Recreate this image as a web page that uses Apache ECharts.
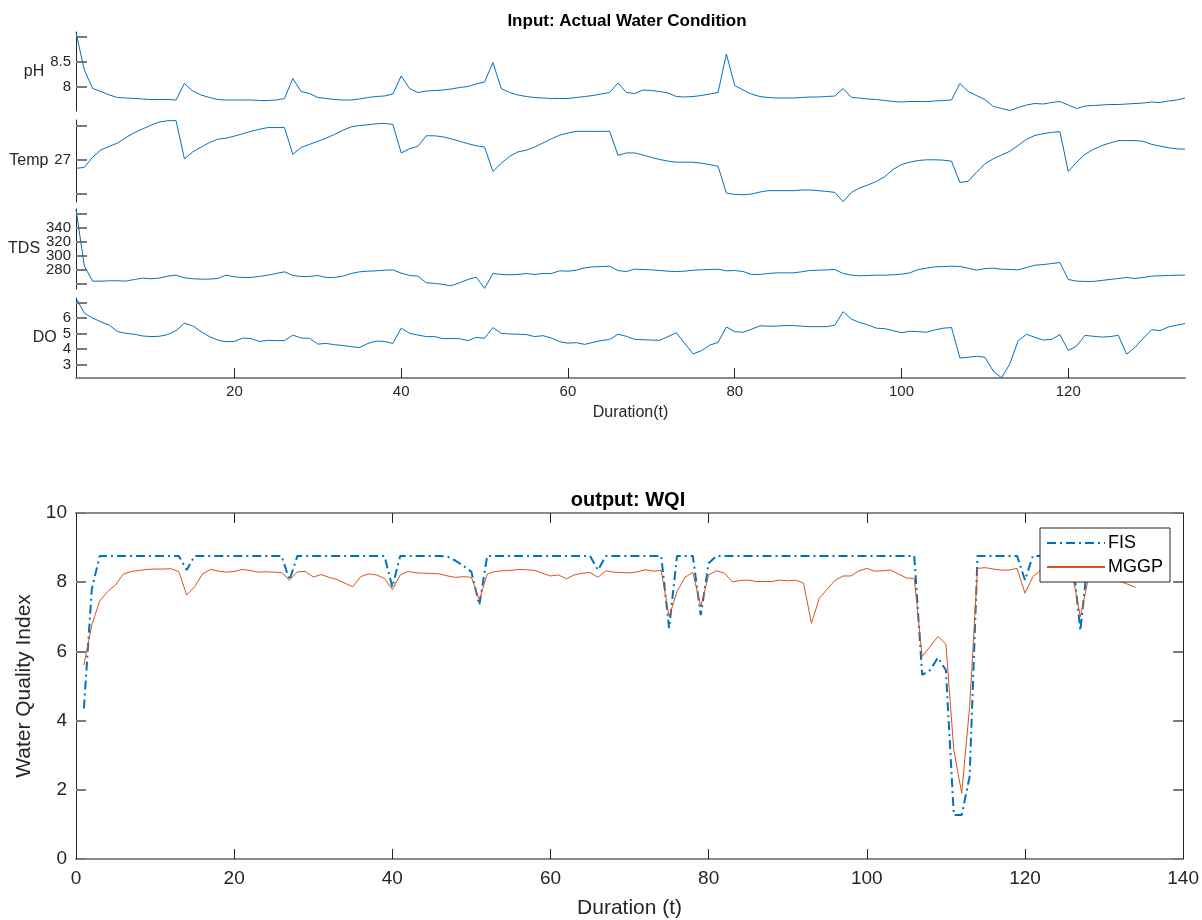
<!DOCTYPE html>
<html>
<head>
<meta charset="utf-8">
<script src="https://cdn.jsdelivr.net/npm/echarts@6/dist/echarts.min.js"></script>
<style>
html,body{margin:0;padding:0;background:#fff;}
#c{width:1202px;height:920px;}
</style>
</head>
<body>
<div id="c"></div>
<script>
// ---- data ----
const pH = [9.09,8.34,7.97,7.91,7.84,7.79,7.78,7.77,7.76,7.75,7.75,7.75,7.74,8.07,7.92,7.84,7.79,7.75,7.74,7.74,
7.74,7.74,7.73,7.73,7.74,7.77,8.17,7.91,7.87,7.79,7.77,7.75,7.74,7.74,7.76,7.79,7.81,7.82,7.86,8.22,
7.97,7.89,7.92,7.93,7.94,7.96,7.99,8.01,8.06,8.10,8.49,7.97,7.89,7.84,7.81,7.79,7.78,7.77,7.77,7.77,
7.79,7.81,7.83,7.86,7.89,8.08,7.89,7.87,7.94,7.93,7.91,7.88,7.81,7.80,7.81,7.83,7.86,7.89,8.66,8.03,
7.94,7.86,7.81,7.79,7.78,7.78,7.78,7.79,7.80,7.80,7.81,7.82,7.97,7.79,7.78,7.76,7.75,7.73,7.71,7.70,
7.71,7.71,7.71,7.72,7.73,7.74,8.07,7.91,7.83,7.75,7.61,7.57,7.53,7.59,7.64,7.67,7.66,7.69,7.71,7.64,
7.57,7.62,7.63,7.64,7.65,7.65,7.66,7.67,7.68,7.70,7.69,7.72,7.74,7.78];
const temp = [26.75,26.78,27.08,27.29,27.39,27.49,27.65,27.79,27.90,28.01,28.10,28.14,28.14,27.03,27.23,27.37,27.50,27.60,27.63,27.69,
27.76,27.83,27.89,27.94,27.94,27.94,27.16,27.36,27.45,27.54,27.63,27.74,27.86,27.96,28.00,28.02,28.05,28.06,28.03,27.20,
27.32,27.39,27.70,27.70,27.67,27.61,27.54,27.47,27.41,27.37,26.66,26.90,27.10,27.23,27.28,27.37,27.49,27.61,27.72,27.78,
27.83,27.83,27.83,27.83,27.83,27.13,27.20,27.20,27.14,27.07,27.01,26.96,26.93,26.93,26.93,26.90,26.86,26.81,26.03,25.99,
25.98,26.00,26.06,26.10,26.10,26.10,26.10,26.12,26.12,26.10,26.08,26.05,25.78,26.05,26.18,26.27,26.37,26.51,26.72,26.86,
26.93,26.98,27.00,27.00,26.99,26.96,26.34,26.37,26.64,26.88,27.03,27.14,27.25,27.42,27.60,27.71,27.76,27.80,27.82,26.66,
26.93,27.16,27.30,27.41,27.49,27.56,27.56,27.56,27.54,27.45,27.40,27.35,27.32,27.31];
const tds = [366.7,284.8,263.3,263.3,263.8,263.8,263.3,265.7,267.6,266.7,267.6,270.5,271.9,268.1,266.7,266.2,266.2,267.1,271.9,269.5,
268.6,268.6,270.0,271.9,274.3,276.7,271.4,270.0,270.0,271.4,268.6,268.6,270.5,274.3,276.7,277.6,278.1,279.0,279.5,274.8,
271.4,270.5,261.0,260.0,258.6,256.7,261.0,265.7,269.0,252.9,274.3,272.9,272.4,272.9,274.3,272.9,274.3,274.3,278.1,277.6,
279.0,282.4,283.8,284.3,284.8,278.6,277.1,280.5,280.0,279.5,278.6,277.6,277.1,277.6,279.0,279.5,280.0,280.5,278.1,278.6,
277.1,272.9,272.9,274.3,275.2,275.2,275.2,276.7,278.6,279.0,279.5,280.0,274.3,271.9,271.0,271.4,271.9,271.9,272.4,273.3,
275.2,280.0,281.9,283.8,284.3,284.8,284.3,281.9,279.0,281.4,281.9,280.5,280.0,279.5,282.9,286.2,287.1,288.6,290.0,265.7,
263.3,262.9,262.9,264.3,265.7,267.1,268.6,267.1,268.6,270.5,271.0,271.4,271.9,271.9];
const dox = [7.29,6.32,6.00,5.76,5.54,5.13,5.02,4.96,4.85,4.81,4.83,4.94,5.19,5.67,5.50,5.13,4.81,4.59,4.48,4.50,
4.72,4.68,4.50,4.57,4.55,4.55,4.91,4.72,4.70,4.33,4.37,4.29,4.24,4.16,4.11,4.37,4.52,4.50,4.37,5.35,
5.02,4.91,4.81,4.81,4.68,4.68,4.68,4.55,4.76,4.70,5.39,5.02,4.98,4.96,4.94,4.81,4.87,4.72,4.48,4.39,
4.42,4.31,4.44,4.55,4.63,4.96,4.83,4.63,4.61,4.59,4.57,4.81,5.06,4.37,3.70,3.90,4.26,4.44,5.43,5.13,
5.09,5.28,5.50,5.48,5.48,5.52,5.52,5.48,5.45,5.45,5.45,5.54,6.41,5.93,5.71,5.56,5.35,5.32,5.19,5.06,
5.15,5.13,5.09,5.24,5.35,5.39,3.44,3.48,3.55,3.48,2.60,2.16,3.07,4.55,4.96,4.76,4.59,4.63,4.94,3.92,
4.20,4.89,4.83,4.78,4.81,4.89,3.68,4.11,4.70,5.26,5.19,5.43,5.54,5.65];
const fis = [4.35,7.80,8.76,8.76,8.76,8.76,8.76,8.76,8.76,8.76,8.76,8.76,8.76,8.35,8.76,8.76,8.76,8.76,8.76,8.76,
8.76,8.76,8.76,8.76,8.76,8.76,8.06,8.76,8.76,8.76,8.76,8.76,8.76,8.76,8.76,8.76,8.76,8.76,8.76,7.86,
8.76,8.76,8.76,8.76,8.76,8.76,8.74,8.62,8.47,8.30,7.34,8.76,8.76,8.76,8.76,8.76,8.76,8.76,8.76,8.76,
8.76,8.76,8.76,8.76,8.76,8.35,8.76,8.76,8.76,8.76,8.76,8.76,8.76,8.76,6.67,8.76,8.76,8.76,7.05,8.55,
8.76,8.76,8.76,8.76,8.76,8.76,8.76,8.76,8.76,8.76,8.76,8.76,8.76,8.76,8.76,8.76,8.76,8.76,8.76,8.76,
8.76,8.76,8.76,8.76,8.76,8.76,5.32,5.46,5.82,5.46,1.27,1.27,2.38,8.76,8.76,8.76,8.76,8.76,8.76,8.06,
8.76,8.76,8.76,8.76,8.76,8.76,6.60,8.76,8.76,8.76,8.76,8.76,8.76,8.76];
const mggp = [5.61,6.76,7.46,7.73,7.92,8.24,8.31,8.34,8.37,8.38,8.38,8.39,8.31,7.63,7.87,8.24,8.37,8.32,8.29,8.31,
8.37,8.34,8.29,8.30,8.29,8.28,8.06,8.30,8.31,8.15,8.22,8.14,8.08,7.97,7.87,8.16,8.24,8.21,8.11,7.79,
8.21,8.31,8.27,8.26,8.25,8.24,8.18,8.14,8.16,8.14,7.49,8.24,8.31,8.33,8.34,8.37,8.36,8.34,8.26,8.18,
8.21,8.10,8.21,8.26,8.28,8.14,8.33,8.29,8.28,8.27,8.30,8.36,8.32,8.34,7.00,7.73,8.14,8.28,7.29,8.21,
8.33,8.26,8.01,8.05,8.06,8.02,8.02,8.02,8.06,8.04,8.06,7.97,6.81,7.54,7.80,8.06,8.18,8.18,8.33,8.40,
8.32,8.33,8.35,8.24,8.12,8.11,5.85,6.14,6.43,6.21,3.15,1.90,4.40,8.40,8.42,8.38,8.35,8.35,8.40,7.68,
8.16,8.35,8.33,8.30,8.32,8.22,7.00,8.10,8.35,8.30,8.15,8.03,7.94,7.85];
const durationTicks = [20, 40, 60, 80, 100, 120];
const panelNames = ['pH', 'Temp', 'TDS', 'DO'];
const panelTicks = [[8, 8.5, 9], [26, 27, 28], [260, 280, 300, 320, 340, 360], [3, 4, 5, 6, 7]];
// tick labels per panel (split in two sets so that tightly packed labels are all kept)
const panelLabelsA = [[8, 8.5], [27], [280, 320], [3, 4, 5, 6]];
const panelLabelsB = [[], [], [300, 340], []];
const panelRange = [[7.52, 9.1], [25.77, 28.16], [252, 367], [2.15, 7.29]];
const wqiTicksX = [0, 20, 40, 60, 80, 100, 120, 140];
const wqiTicksY = [0, 2, 4, 6, 8, 10];

const FONT = 'Liberation Sans, Arial, Helvetica, sans-serif';
const DARK = '#262626';
const GRAYLINE = '#8a8a8a';
const BLUE = '#0072BD';
const ORANGE = '#D95319';

function pairs(arr) { return arr.map((v, i) => [i + 1, v]); }

const panelSeries = [pH, temp, tds, dox];
const panelTop = [32, 120, 209, 298];
const panelH = [79, 82, 80, 80];
const nameGaps = [27, 25, 32, 16];

const grids = [], xAxes = [], yAxes = [], series = [], extraY = [];
for (let i = 0; i < 4; i++) {
  grids.push({ left: 76, right: 17, top: panelTop[i], height: panelH[i], containLabel: false });
  const isLast = i === 3;
  xAxes.push({
    type: 'value', gridIndex: i, min: 1, max: 134,
    show: isLast,
    axisLine: { show: isLast, onZero: false, lineStyle: { color: GRAYLINE, width: 2 } },
    axisTick: { show: isLast, inside: true, length: 10, lineStyle: { color: DARK }, customValues: durationTicks },
    axisLabel: { show: isLast, customValues: durationTicks, fontSize: 15, color: DARK, fontFamily: FONT, margin: 6 },
    splitLine: { show: false },
    name: isLast ? 'Duration(t)' : '', nameLocation: 'middle', nameGap: 27,
    nameTextStyle: { fontSize: 16, color: DARK, fontFamily: FONT }
  });
  yAxes.push({
    type: 'value', gridIndex: i, min: panelRange[i][0], max: panelRange[i][1],
    axisLine: { show: true, onZero: false, lineStyle: { color: DARK, width: 1 } },
    axisTick: { show: true, inside: true, length: 11, lineStyle: { color: '#7a7a7a', width: 2 }, customValues: panelTicks[i] },
    axisLabel: { customValues: panelLabelsA[i], hideOverlap: false, showMinLabel: true, showMaxLabel: true,
      fontSize: 15, color: DARK, fontFamily: FONT, margin: 5 },
    splitLine: { show: false },
    name: panelNames[i], nameLocation: 'middle', nameRotate: 0, nameGap: nameGaps[i],
    nameTextStyle: { fontSize: 16, color: DARK, fontFamily: FONT, align: 'right', verticalAlign: 'middle' }
  });
  if (panelLabelsB[i].length) {
    extraY.push({
      type: 'value', gridIndex: i, min: panelRange[i][0], max: panelRange[i][1], position: 'left', offset: 0,
      axisLine: { show: false, onZero: false }, axisTick: { show: false }, splitLine: { show: false },
      axisLabel: { customValues: panelLabelsB[i], hideOverlap: false, showMinLabel: true, showMaxLabel: true,
        fontSize: 15, color: DARK, fontFamily: FONT, margin: 5 }
    });
  }
  series.push({
    type: 'line', xAxisIndex: i, yAxisIndex: i, data: pairs(panelSeries[i]),
    symbol: 'none', lineStyle: { color: BLUE, width: 1 }, silent: true
  });
}

// bottom WQI plot
grids.push({ left: 76, right: 17, top: 513, height: 346 });
xAxes.push({
  type: 'value', gridIndex: 4, min: 0, max: 140, interval: 20,
  axisLine: { show: true, onZero: false, lineStyle: { color: GRAYLINE, width: 2 } },
  axisTick: { show: true, inside: true, length: 10, lineStyle: { color: DARK } },
  axisLabel: { fontSize: 19, color: DARK, fontFamily: FONT, margin: 10, customValues: wqiTicksX },
  splitLine: { show: false },
  name: 'Duration (t)', nameLocation: 'middle', nameGap: 39,
  nameTextStyle: { fontSize: 21, color: DARK, fontFamily: FONT }
});
xAxes.push({
  type: 'value', gridIndex: 4, min: 0, max: 140, interval: 20, position: 'top',
  axisLine: { show: true, onZero: false, lineStyle: { color: GRAYLINE, width: 2 } },
  axisTick: { show: true, inside: true, length: 10, lineStyle: { color: DARK } },
  axisLabel: { show: false }, splitLine: { show: false }
});
yAxes.push({
  type: 'value', gridIndex: 4, min: 0, max: 10, interval: 2,
  axisLine: { show: true, onZero: false, lineStyle: { color: DARK, width: 1 } },
  axisTick: { show: true, inside: true, length: 10, lineStyle: { color: '#7a7a7a', width: 2 } },
  axisLabel: { fontSize: 19, color: DARK, fontFamily: FONT, margin: 9, customValues: wqiTicksY },
  splitLine: { show: false },
  name: 'Water Quality Index', nameLocation: 'middle', nameGap: 30,
  nameTextStyle: { fontSize: 21, color: DARK, fontFamily: FONT }
});
yAxes.push({
  type: 'value', gridIndex: 4, min: 0, max: 10, interval: 2, position: 'right',
  axisLine: { show: true, onZero: false, lineStyle: { color: DARK, width: 1 } },
  axisTick: { show: true, inside: true, length: 10, lineStyle: { color: '#7a7a7a', width: 2 } },
  axisLabel: { show: false }, splitLine: { show: false }
});
extraY.forEach(a => yAxes.push(a));

series.push({
  name: 'FIS', type: 'line', xAxisIndex: 4, yAxisIndex: 4, data: pairs(fis),
  symbol: 'none', color: BLUE, lineStyle: { color: BLUE, width: 2, type: [9, 4, 2, 4] }, silent: true
});
series.push({
  name: 'MGGP', type: 'line', xAxisIndex: 4, yAxisIndex: 4, data: pairs(mggp),
  symbol: 'none', color: ORANGE, lineStyle: { color: ORANGE, width: 1 }, silent: true
});

const option = {
  animation: false,
  backgroundColor: '#fff',
  title: [
    { text: 'Input: Actual Water Condition', left: 622, textAlign: 'center', top: 8,
      textStyle: { fontSize: 17, fontWeight: 'bold', color: '#000', fontFamily: FONT } },
    { text: 'output: WQI', left: 623, textAlign: 'center', top: 485,
      textStyle: { fontSize: 20, fontWeight: 'bold', color: '#000', fontFamily: FONT } }
  ],
  legend: {
    data: ['FIS', 'MGGP'], orient: 'vertical', left: 1040, top: 528,
    backgroundColor: '#fff', borderColor: DARK, borderWidth: 1,
    padding: [6, 7, 6, 6], itemWidth: 58, itemHeight: 12, itemGap: 6,
    itemStyle: { opacity: 0 },
    textStyle: { fontSize: 18, color: '#000', fontFamily: FONT, padding: [0, 0, 0, -2] }
  },
  grid: grids, xAxis: xAxes, yAxis: yAxes, series: series
};
const chart = echarts.init(document.getElementById('c'), null, { renderer: 'canvas' });
chart.setOption(option);
</script>
</body>
</html>
